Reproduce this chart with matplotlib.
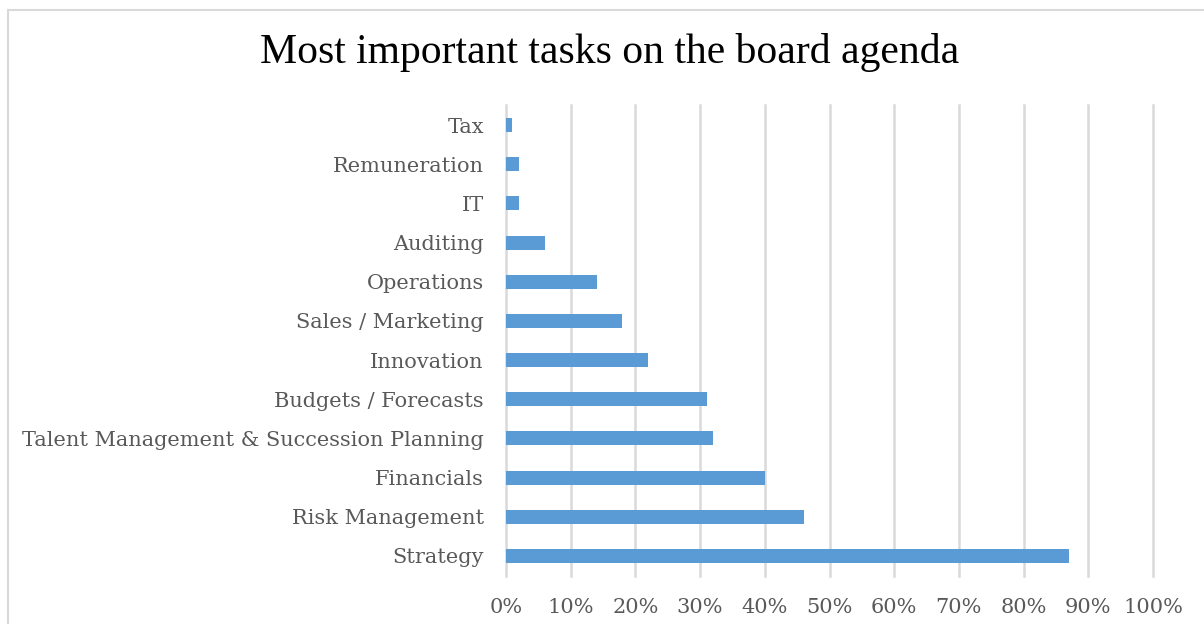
import matplotlib
matplotlib.use("Agg")
import matplotlib.pyplot as plt
from matplotlib.lines import Line2D
from matplotlib.ticker import FuncFormatter, MultipleLocator

# Share of respondents naming each task (percent), bottom to top
tasks = ["Strategy", "Risk Management", "Financials",
         "Talent Management & Succession Planning", "Budgets / Forecasts",
         "Innovation", "Sales / Marketing", "Operations", "Auditing",
         "IT", "Remuneration", "Tax"]
shares = [87, 46, 40, 32, 31, 22, 18, 14, 6, 2, 2, 1]

bar_color = "#5b9bd5"
grid_color = "#d9d9d9"
text_gray = "#595959"

plt.rcParams["font.family"] = ["DejaVu Serif"]

fig = plt.figure(figsize=(12.04, 6.24), dpi=100)
W, H = 1204, 624

# chart frame (only left and top edges fall inside the canvas)
fig.add_artist(Line2D([8 / W, 8 / W], [0, 1 - 10 / H], color=grid_color,
                      lw=1.5, transform=fig.transFigure))
fig.add_artist(Line2D([8 / W, 1], [1 - 10 / H, 1 - 10 / H], color=grid_color,
                      lw=1.5, transform=fig.transFigure))

ax = fig.add_axes([506 / W, 1 - 575.5 / H, 647 / W, 470 / H])
ypos = range(len(tasks))
ax.barh(ypos, shares, height=0.36, color=bar_color, zorder=3)

ax.set_xlim(0, 100)
ax.set_ylim(-0.5, len(tasks) - 0.5)
ax.set_yticks(list(ypos))
ax.set_yticklabels(tasks)
ax.xaxis.set_major_locator(MultipleLocator(10))
ax.xaxis.set_major_formatter(FuncFormatter(lambda v, _: f"{v:.0f}%"))
ax.grid(axis="x", color=grid_color, lw=1.8, zorder=0)
for gl in ax.get_xgridlines():
    gl.set_clip_on(False)
ax.tick_params(axis="both", length=0, labelsize=15, colors=text_gray)
ax.tick_params(axis="y", pad=16)
ax.tick_params(axis="x", pad=16)
for s in ax.spines.values():
    s.set_visible(False)

fig.text(610 / W, 1 - 52 / H, "Most important tasks on the board agenda",
         ha="center", va="center", fontsize=30, color="black",
         family="Liberation Serif")

fig.savefig("out.png", dpi=100)
